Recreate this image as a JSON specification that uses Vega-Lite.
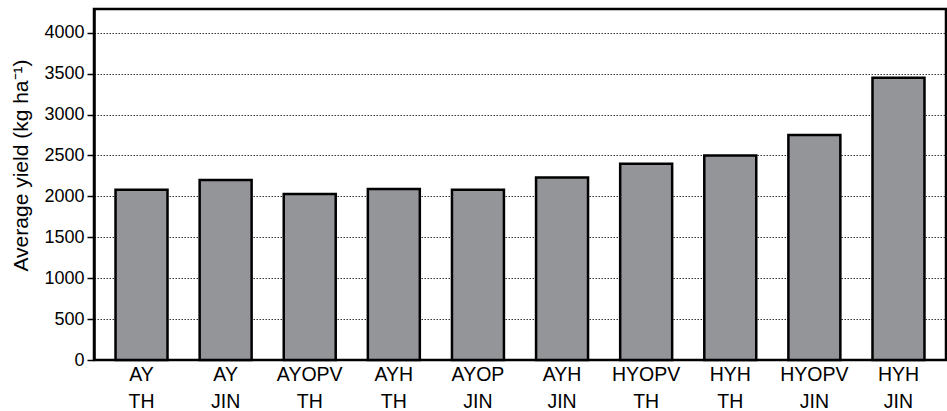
{
  "$schema": "https://vega.github.io/schema/vega-lite/v6.json",
  "autosize": {"type": "none"},
  "padding": {"left": 94, "top": 9, "right": 1, "bottom": 51},
  "width": 852,
  "height": 351,
  "config": {
    "font": "Liberation Sans",
    "view": {"stroke": "black", "strokeWidth": 2.5},
    "axis": {"labelColor": "black", "titleColor": "black", "domainColor": "black", "tickColor": "black"}
  },
  "data": {"values": [
    {"group": "AY|TH", "yield": 2080},
    {"group": "AY|JIN", "yield": 2200},
    {"group": "AYOPV|TH", "yield": 2030},
    {"group": "AYH|TH", "yield": 2090},
    {"group": "AYOP|JIN", "yield": 2080},
    {"group": "AYH|JIN", "yield": 2230},
    {"group": "HYOPV|TH", "yield": 2400},
    {"group": "HYH|TH", "yield": 2500},
    {"group": "HYOPV|JIN", "yield": 2750},
    {"group": "HYH|JIN", "yield": 3450}
  ]},
  "mark": {"type": "bar", "fill": "#939598", "stroke": "black", "strokeWidth": 2.5},
  "encoding": {
    "x": {
      "field": "group", "type": "nominal", "sort": null,
      "scale": {"paddingInner": 0.382, "paddingOuter": 0.256},
      "axis": {
        "title": null, "labelAngle": 0, "ticks": false, "domain": false,
        "labelExpr": "split(datum.label, '|')", "labelFontSize": 19.5, "labelLineHeight": 27,
        "labelPadding": 5
      }
    },
    "y": {
      "field": "yield", "type": "quantitative",
      "scale": {"domain": [0, 4290], "nice": false},
      "axis": {
        "title": "Average yield (kg ha⁻¹)", "titleFontSize": 21, "titleFontWeight": "normal", "titlePadding": 12,
        "titleY": 156,
        "values": [0, 500, 1000, 1500, 2000, 2500, 3000, 3500, 4000], "format": "d",
        "labelFontSize": 18, "labelPadding": 3, "tickSize": 7, "tickWidth": 1.5, "domainWidth": 2.5,
        "gridColor": "black", "gridDash": [1.5, 1.5], "gridWidth": 1, "gridOpacity": 0.8
      }
    }
  }
}
